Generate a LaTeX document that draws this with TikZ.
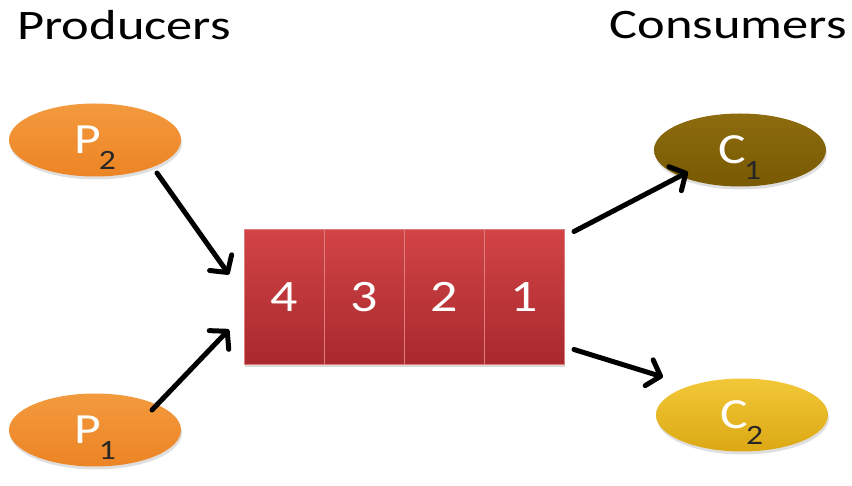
\documentclass[tikz,border=0pt]{standalone}
\usepackage{fontspec}
\setmainfont{Carlito}
\usetikzlibrary{arrows.meta, positioning, shapes.geometric, shadows}
\definecolor{prodorange}{HTML}{EC8424}
\definecolor{prodlight}{HTML}{F39A3E}
\definecolor{consolive}{HTML}{7A5A02}
\definecolor{consolivelt}{HTML}{8C6C0E}
\definecolor{consyellow}{HTML}{DCA814}
\definecolor{consyellowlt}{HTML}{F2C838}
\definecolor{queuered}{HTML}{A8292D}
\definecolor{queuelight}{HTML}{D24446}
\tikzstyle{title}=[font=\fontsize{42}{48}\selectfont, inner sep=0]
\tikzstyle{proc}=[ellipse, minimum width=172pt, minimum height=73pt, inner sep=0,
   text=white, font=\fontsize{43}{48}\selectfont,
   drop shadow={opacity=0.25, shadow xshift=1pt, shadow yshift=-3pt}]
\tikzstyle{producer}=[proc, top color=prodlight, bottom color=prodorange]
\tikzstyle{consumer_a}=[proc, top color=consolivelt, bottom color=consolive]
\tikzstyle{consumer_b}=[proc, top color=consyellowlt, bottom color=consyellow]
\tikzstyle{slot}=[rectangle, minimum width=80pt, minimum height=135pt, inner sep=0,
   outer sep=0, draw=queuelight!70!white, line width=0.6pt,
   top color=queuelight, bottom color=queuered, text=white,
   font=\fontsize{45}{50}\selectfont,
   drop shadow={opacity=0.3, shadow xshift=1pt, shadow yshift=-3pt}]
\tikzstyle{flow}=[line width=5pt, line cap=round,
   -{Straight Barb[length=12pt, width=27pt, line width=5pt, round]}]
\newcommand{\wide}[1]{\scalebox{1.2}[1]{#1}}
\newcommand{\widetitle}[1]{\scalebox{1.25}[1]{#1}}
\newcommand{\sub}[1]{\kern-2pt\raisebox{-16pt}[0pt][0pt]{\fontsize{28}{30}\selectfont\color{black!85}\wide{#1}}}

\begin{document}
\begin{tikzpicture}[x=1pt, y=-1pt]

\useasboundingbox (0,0) rectangle (852,486);

% headings
\node [title, anchor=base west] (prod_title) at (17,40)  {\widetitle{Producers}};
\node [title, anchor=base east] (cons_title) at (847,39) {\widetitle{Consumers}};

% producers
\node [producer] (p2) at (95,140) {\wide{P}\sub{2}};
\node [producer] (p1) at (95,430) {\wide{P}\sub{1}};

% consumers
\node [consumer_a] (c1) at (740,150) {\wide{C}\sub{1}};
\node [consumer_b] (c2) at (742,415) {\wide{C}\sub{2}};

% queue slots
\node [slot] (slot4) at (284,297)            {\wide{4}};
\node [slot] (slot3) [right=0pt of slot4]    {\wide{3}};
\node [slot] (slot2) [right=0pt of slot3]    {\wide{2}};
\node [slot] (slot1) [right=0pt of slot2]    {\wide{1}};

% arrow ends
\coordinate (p2_tail)   at ([shift={(62,33)}]p2.center);
\coordinate (p1_tail)   at ([shift={(57,-20)}]p1.center);
\coordinate (q_in_top)  at ([shift={(-15,45)}]slot4.north west);
\coordinate (q_in_bot)  at ([shift={(-15,-35)}]slot4.south west);
\coordinate (q_out_top) at ([shift={(10,2)}]slot1.north east);
\coordinate (q_out_bot) at ([shift={(10,-15)}]slot1.south east);
\coordinate (c1_tip)    at ([shift={(-52,22)}]c1.center);
\coordinate (c2_tip)    at ([shift={(-79,-38)}]c2.center);

% enqueue / dequeue arrows
\draw[flow] (p2_tail) -- (q_in_top);
\draw[flow] (p1_tail) -- (q_in_bot);
\draw[flow] (q_out_top) -- (c1_tip);
\draw[flow] (q_out_bot) -- (c2_tip);

\end{tikzpicture}
\end{document}
